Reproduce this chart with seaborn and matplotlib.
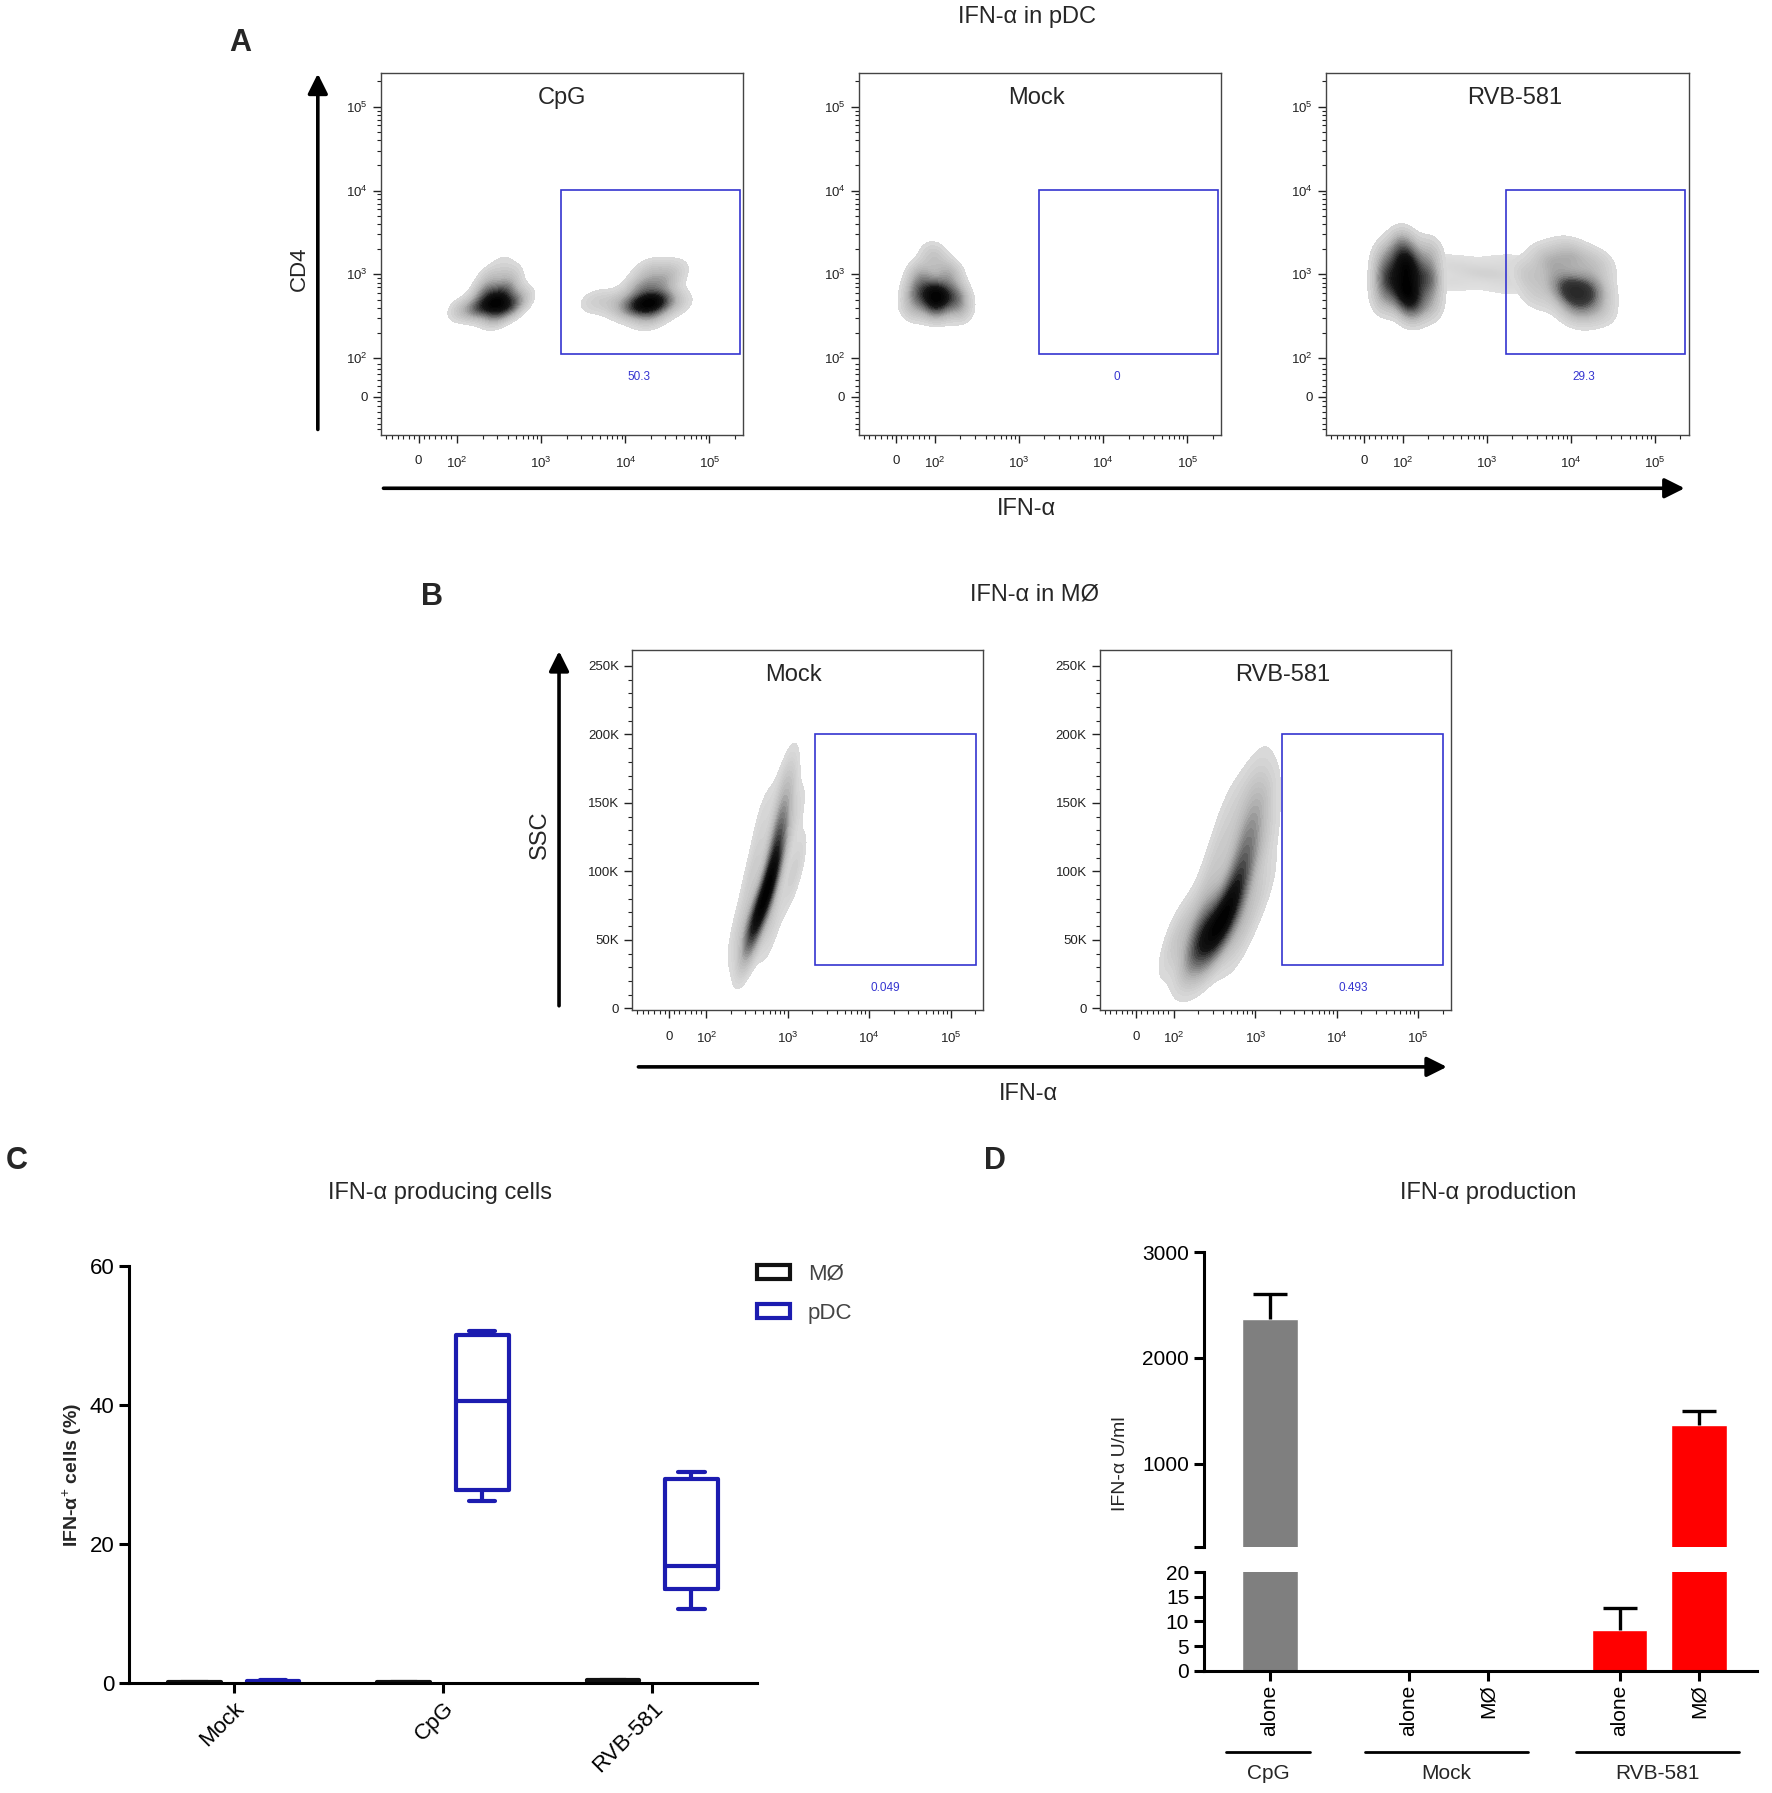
import numpy as np
import pandas as pd
import matplotlib
matplotlib.use('Agg')
import matplotlib.pyplot as plt
import seaborn as sns
from matplotlib.colors import LinearSegmentedColormap
from matplotlib.patches import Rectangle, Patch, FancyArrowPatch

sns.set_theme(style='white')
plt.rcParams['font.family'] = ['Liberation Sans', 'DejaVu Sans']
plt.rcParams['mathtext.fontset'] = 'custom'
plt.rcParams['mathtext.rm'] = 'Liberation Sans'
plt.rcParams['mathtext.it'] = 'Liberation Sans:italic'
plt.rcParams['mathtext.bf'] = 'Liberation Sans:bold'
NARROW = ['Liberation Sans Narrow', 'Liberation Sans', 'DejaVu Sans']

# ---------------- data ----------------
# flow axes are logicle; positions are in decade units (10^2 -> 2, "0" -> 1.54)
flow_major_pos = [1.54, 2, 3, 4, 5]
flow_major_lab = ['0', '$10^{2}$', '$10^{3}$', '$10^{4}$', '$10^{5}$']
ssc_ticks = [0, 50, 100, 150, 200, 250]
ssc_labels = ['0', '50K', '100K', '150K', '200K', '250K']

# Panel A: pDC, CD4 vs IFN-a
a_titles = ['CpG', 'Mock', 'RVB-581']
a_title_x = [0.50, 0.49, 0.52]
a_gate_pct = ['50.3', '0', '29.3']
a_gate_x = [3.23, 5.36]
a_gate_y = [2.05, 4.01]

cpg_neg_x = [2.45, 2.25, 2.62, 2.35, 2.58, 2.05, 2.75, 2.45, 2.40, 2.62, 2.55]
cpg_neg_y = [2.66, 2.60, 2.62, 2.80, 2.82, 2.58, 2.72, 2.50, 2.98, 3.00, 3.18]
cpg_neg_w = [4, 2.5, 2.5, 2, 2, 1, 1, 1.5, 0.8, 0.8, 0.3]
cpg_pos_x = [4.27, 4.10, 4.42, 4.20, 4.45, 4.30, 4.55, 3.90, 3.65, 4.30, 4.60]
cpg_pos_y = [2.66, 2.62, 2.68, 2.85, 2.90, 3.05, 3.05, 2.66, 2.68, 2.50, 2.65]
cpg_pos_w = [4, 2.5, 2.5, 2, 1.5, 1, 0.8, 1, 0.8, 1.5, 0.8]

mock_a_x = [2.02, 1.80, 2.24, 2.00, 1.84, 2.16, 1.98, 1.74, 2.28]
mock_a_y = [2.76, 2.78, 2.74, 2.60, 2.98, 3.00, 3.22, 2.60, 2.58]
mock_a_w = [4, 2, 2, 2, 1.5, 1.5, 1, 1, 1]

rvb_neg_x = [2.05, 2.05, 1.82, 2.30, 2.00, 2.10, 1.80, 2.32, 2.32, 1.78]
rvb_neg_y = [3.10, 2.80, 2.95, 2.95, 3.35, 2.60, 3.20, 3.25, 2.65, 2.70]
rvb_neg_w = [3, 3, 2, 2, 1.5, 1.5, 1, 1, 1, 1]
rvb_bridge_x = [2.55, 2.55, 2.80, 3.00, 3.15, 3.30, 3.30]
rvb_bridge_y = [3.12, 2.92, 3.05, 3.00, 3.00, 3.12, 2.88]
rvb_bridge_w = [1, 1, 1, 1, 1, 1, 1]
rvb_pos_x = [4.08, 3.92, 4.25, 4.05, 4.30, 3.75, 4.00, 4.30, 3.50, 3.60]
rvb_pos_y = [2.78, 2.85, 2.85, 2.58, 2.60, 3.15, 3.22, 3.12, 3.00, 2.75]
rvb_pos_w = [3, 2, 2, 1.5, 1, 1.5, 1.5, 1, 1, 0.7]

# Panel B: macrophages, SSC (K) vs IFN-a
b_titles = ['Mock', 'RVB-581']
b_title_x = [0.46, 0.52]
b_gate_pct = ['0.049', '0.493']
b_gate_x = [3.33, 5.31]
b_gate_y = [32, 200]

mock_b_x = [2.53, 2.60, 2.72, 2.83, 2.88, 2.95, 2.97, 2.40, 2.80, 2.58, 3.08, 2.70, 3.10]
mock_b_y = [55, 62, 80, 100, 125, 150, 170, 58, 60, 100, 100, 140, 140]
mock_b_w = [2, 3, 4, 4, 3, 1.5, 0.6, 0.8, 0.8, 1.0, 1.0, 0.6, 0.6]
rvb_b_x = [2.30, 2.45, 2.60, 2.72, 2.80, 2.87, 2.93, 2.97, 2.98, 2.05, 2.80, 2.40, 3.05,
           2.55, 3.10, 2.70, 3.12]
rvb_b_y = [50, 52, 60, 75, 95, 115, 135, 155, 172, 52, 52, 80, 85, 115, 120, 150, 150]
rvb_b_w = [4, 4, 3.5, 3, 2.5, 2, 1.5, 1, 0.5, 1.5, 1.2, 1.2, 1.0, 1.0, 0.9, 0.6, 0.6]

# Panel C: % IFN-a+ cells (five-number summaries per group)
c_groups = ['Mock', 'CpG', 'RVB-581']
c_cells = ['MØ', 'pDC']
c_colors = ['#111111', '#1c1cb0']
c_mo_mock = [0.05, 0.08, 0.10, 0.12, 0.15]
c_mo_cpg = [0.05, 0.07, 0.09, 0.11, 0.14]
c_mo_rvb = [0.25, 0.32, 0.38, 0.44, 0.50]
c_pdc_mock = [0.10, 0.18, 0.24, 0.32, 0.40]
c_pdc_cpg = [26.2, 27.8, 40.6, 50.1, 50.7]
c_pdc_rvb = [10.7, 13.6, 16.9, 29.3, 30.4]

# Panel D: IFN-a U/ml (mean + SD)
d_pos = [0, 1.75, 2.75, 4.4, 5.4]
d_ids = ['CpG alone', 'Mock alone', 'Mock MØ', 'RVB alone', 'RVB MØ']
d_labels = ['alone', 'alone', 'MØ', 'alone', 'MØ']
d_mean = [2370, 0, 0, 8.2, 1360]
d_sd = [235, 0, 0, 4.6, 140]
d_colors = ['#7f7f7f', '#7f7f7f', '#7f7f7f', '#ff0000', '#ff0000']
d_groups = ['CpG', 'Mock', 'RVB-581']
d_members = [[0], [1, 2], [3, 4]]

# ---------------- layout helpers ----------------
fig = plt.figure(figsize=(17.72, 17.93), dpi=100)
W, H = 1550.0, 1568.0


def fx(x):
    return x / W


def fy(y):
    return 1 - y / H


def box(x0, y0, x1, y1):
    return [fx(x0), fy(y1), (x1 - x0) / W, (y1 - y0) / H]


def arrow(x0, y0, x1, y1):
    fig.add_artist(FancyArrowPatch((fx(x0), fy(y0)), (fx(x1), fy(y1)),
                                   transform=fig.transFigure, arrowstyle='-|>',
                                   mutation_scale=30, lw=2.6, color='black'))


grey_map = LinearSegmentedColormap.from_list(
    'flow', ['#dcdcdc', '#b4b4b4', '#6a6a6a', '#151515', '#000000'])
grey_soft = LinearSegmentedColormap.from_list(
    'flow2', ['#dcdcdc', '#bdbdbd', '#8a8a8a', '#3a3a3a', '#262626'])
grey_light = LinearSegmentedColormap.from_list('flow3', ['#e0e0e0', '#d2d2d2'])
gate_col = '#3535d0'

minor_log = [np.log10(k) + n for n in (2, 3, 4) for k in range(2, 10)] + [np.log10(2) + 5]
minor_lin = [1.15, 1.22, 1.29, 1.36, 1.43, 1.49, 1.60, 1.67, 1.74, 1.81, 1.87, 1.93]


def flow_axes(rect, ssc=False):
    ax = fig.add_axes(rect)
    for s in ax.spines.values():
        s.set_visible(True)
        s.set_color('#444444')
        s.set_linewidth(1.0)
    ax.set_xticks(flow_major_pos)
    ax.set_xticklabels(flow_major_lab)
    ax.set_xticks(minor_log + minor_lin, minor=True)
    if ssc:
        ax.set_yticks(ssc_ticks)
        ax.set_yticklabels(ssc_labels)
        ax.set_yticks(list(range(10, 260, 10)), minor=True)
    else:
        ax.set_yticks(flow_major_pos)
        ax.set_yticklabels(flow_major_lab)
        ax.set_yticks(minor_log + minor_lin, minor=True)
    ax.tick_params(which='both', direction='out', bottom=True, left=True,
                   top=False, right=False, colors='#222222', labelsize=9.5)
    ax.tick_params(which='major', length=6, width=1)
    ax.tick_params(which='minor', length=3, width=0.8)
    ax.tick_params(axis='x', which='major', pad=9)
    return ax


def blob(ax, xs, ys, ws, cmap, bw=0.9, thresh=0.05):
    sns.kdeplot(x=xs, y=ys, weights=ws, fill=True, levels=25, thresh=thresh,
                cmap=cmap, bw_adjust=bw, ax=ax)


# ---------------- Panel A ----------------
a_left = [333, 751, 1160]
a_blobs = [
    [(cpg_neg_x, cpg_neg_y, cpg_neg_w, grey_map), (cpg_pos_x, cpg_pos_y, cpg_pos_w, grey_map)],
    [(mock_a_x, mock_a_y, mock_a_w, grey_map)],
    [(rvb_bridge_x, rvb_bridge_y, rvb_bridge_w, grey_light),
     (rvb_neg_x, rvb_neg_y, rvb_neg_w, grey_map), (rvb_pos_x, rvb_pos_y, rvb_pos_w, grey_soft)],
]
for i, left in enumerate(a_left):
    ax = flow_axes(box(left, 64, left + 317, 380))
    for xs, ys, ws, cm in a_blobs[i]:
        blob(ax, xs, ys, ws, cm)
    ax.add_patch(Rectangle((a_gate_x[0], a_gate_y[0]), a_gate_x[1] - a_gate_x[0],
                           a_gate_y[1] - a_gate_y[0], fill=False, ec=gate_col, lw=1.2))
    ax.text(4.16, 1.78, a_gate_pct[i], color=gate_col, fontsize=8.5, ha='center', va='center')
    ax.text(a_title_x[i], 0.93, a_titles[i], transform=ax.transAxes, ha='center',
            va='center', fontsize=17)
    ax.set_xlim(1.09, 5.40)
    ax.set_ylim(1.09, 5.40)
    ax.set_xlabel('')
    ax.set_ylabel('')

arrow(278, 378, 278, 62)
arrow(333, 427, 1476, 427)
fig.text(fx(262), fy(235), 'CD4', rotation=90, ha='center', va='center', fontsize=16)
fig.text(fx(898), fy(445), 'IFN-α', ha='center', va='center', fontsize=17)
fig.text(fx(898), fy(15), 'IFN-α in pDC', ha='center', va='center', fontsize=17)
fig.text(fx(210), fy(38), 'A', ha='center', va='center', fontsize=22, fontweight='bold')

# ---------------- Panel B ----------------
b_left = [553, 962]
b_blobs = [(mock_b_x, mock_b_y, mock_b_w), (rvb_b_x, rvb_b_y, rvb_b_w)]
for i, left in enumerate(b_left):
    ax = flow_axes(box(left, 568, left + 307, 883), ssc=True)
    xs, ys, ws = b_blobs[i]
    blob(ax, xs, ys, ws, grey_map, bw=0.85)
    ax.add_patch(Rectangle((b_gate_x[0], b_gate_y[0]), b_gate_x[1] - b_gate_x[0],
                           b_gate_y[1] - b_gate_y[0], fill=False, ec=gate_col, lw=1.2))
    ax.text(4.2, 15, b_gate_pct[i], color=gate_col, fontsize=8.5, ha='center', va='center')
    ax.text(b_title_x[i], 0.93, b_titles[i], transform=ax.transAxes, ha='center',
            va='center', fontsize=17)
    ax.set_xlim(1.09, 5.40)
    ax.set_ylim(-1, 262)
    ax.set_xlabel('')
    ax.set_ylabel('')

arrow(489, 882, 489, 567)
arrow(556, 933, 1268, 933)
fig.text(fx(472), fy(730), 'SSC', rotation=90, ha='center', va='center', fontsize=17)
fig.text(fx(900), fy(957), 'IFN-α', ha='center', va='center', fontsize=17)
fig.text(fx(905), fy(520), 'IFN-α in MØ', ha='center', va='center', fontsize=17)
fig.text(fx(378), fy(522), 'B', ha='center', va='center', fontsize=22, fontweight='bold')

# ---------------- Panel C ----------------
c_vals = {('MØ', 'Mock'): c_mo_mock, ('MØ', 'CpG'): c_mo_cpg, ('MØ', 'RVB-581'): c_mo_rvb,
          ('pDC', 'Mock'): c_pdc_mock, ('pDC', 'CpG'): c_pdc_cpg, ('pDC', 'RVB-581'): c_pdc_rvb}
rows = []
for (cell, stim), vals in c_vals.items():
    for v in vals:
        rows.append({'cell': cell, 'stim': stim, 'pct': v})
c_df = pd.DataFrame(rows)

axc = fig.add_axes(box(113, 1107, 662, 1472))
sns.boxplot(data=c_df, x='stim', y='pct', hue='cell', order=c_groups, hue_order=c_cells,
            palette=c_colors, fill=False, width=0.75, gap=0.33, linewidth=3,
            whis=(0, 100), legend=False, ax=axc)
axc.set_ylim(0, 60)
axc.set_yticks([0, 20, 40, 60])
sns.despine(ax=axc)
for s in ('left', 'bottom'):
    axc.spines[s].set_linewidth(2.2)
    axc.spines[s].set_color('black')
axc.tick_params(direction='out', length=7, width=2.2, bottom=True, left=True,
                labelsize=16, colors='black')
for lab in axc.get_yticklabels():
    lab.set_fontfamily(NARROW)
axc.set_xticks(range(len(c_groups)))
axc.set_xticklabels(c_groups, rotation=45, ha='right', rotation_mode='anchor',
                    fontsize=16, fontfamily=NARROW)
axc.set_xlabel('')
axc.set_ylabel('IFN-α$^{+}$ cells (%)', fontsize=14, fontweight='bold')
axc.yaxis.set_label_coords(-0.072, 0.5)
handles = [Patch(facecolor='white', edgecolor=c, linewidth=3) for c in c_colors]
axc.legend(handles, c_cells, loc='upper left', bbox_to_anchor=(1.0, 1.005), frameon=False,
           handlelength=1.5, handleheight=0.6, labelspacing=0.8,
           borderaxespad=0, borderpad=0, labelcolor='#444444', prop={'family': NARROW, 'size': 16})
fig.text(fx(385), fy(1043), 'IFN-α producing cells', ha='center', va='center', fontsize=17)
fig.text(fx(15), fy(1015), 'C', ha='center', va='center', fontsize=22, fontweight='bold')

# ---------------- Panel D ----------------
ax_up = fig.add_axes(box(1053, 1095, 1537, 1353))
ax_lo = fig.add_axes(box(1053, 1375, 1537, 1461))
mask = [i for i, s in enumerate(d_sd) if s > 0]
err_x = [d_pos[i] for i in mask]
err_y = [d_mean[i] for i in mask]
for ax, lim in ((ax_up, (209, 3000)), (ax_lo, (0, 20))):
    sns.barplot(x=d_pos, y=d_mean, hue=d_ids, palette=d_colors, native_scale=True,
                width=0.7, dodge=False, legend=False, errorbar=None, saturation=1, ax=ax)
    eb = ax.errorbar(err_x, err_y, yerr=[[0] * len(mask), [d_sd[i] for i in mask]],
                     fmt='none', ecolor='black', elinewidth=2.4, capsize=12,
                     capthick=2.4, zorder=3)
    # keep only the upper caps (mean + SD)
    for cap in eb[1]:
        if np.allclose(cap.get_ydata(), err_y):
            cap.set_visible(False)
    ax.set_ylim(*lim)
    ax.set_xlim(-0.83, 6.13)
    sns.despine(ax=ax)
    ax.spines['left'].set_linewidth(2.2)
    ax.spines['left'].set_color('black')
    ax.tick_params(direction='out', length=7, width=2.2, left=True, labelsize=15, colors='black')
    ax.set_xlabel('')
    ax.set_ylabel('')

ax_up.spines['bottom'].set_visible(False)
ax_up.set_xticks([])
ax_up.set_yticks([209, 1000, 2000, 3000])
ax_up.set_yticklabels(['', '1000', '2000', '3000'])
ax_lo.set_yticks([0, 5, 10, 15, 20])
ax_lo.spines['bottom'].set_linewidth(2.2)
ax_lo.spines['bottom'].set_color('black')
ax_lo.set_xticks(d_pos)
ax_lo.set_xticklabels(d_labels, rotation=90, fontsize=15)
ax_lo.tick_params(axis='x', bottom=True, length=7, width=2.2, pad=3)
trans = ax_lo.get_xaxis_transform()
for name, members in zip(d_groups, d_members):
    x0 = d_pos[members[0]] - 0.55
    x1 = d_pos[members[-1]] + 0.5
    ax_lo.plot([x0, x1], [-0.83, -0.83], transform=trans, color='black', lw=2, clip_on=False)
    ax_lo.text((x0 + x1) / 2, -1.05, name, transform=trans, ha='center', va='center', fontsize=15)

fig.text(fx(980), fy(1280), 'IFN-α U/ml', rotation=90, ha='center', va='center', fontsize=14)
fig.text(fx(1302), fy(1043), 'IFN-α production', ha='center', va='center', fontsize=17)
fig.text(fx(870), fy(1015), 'D', ha='center', va='center', fontsize=22, fontweight='bold')

fig.savefig('out.png', dpi=100, facecolor='white')
